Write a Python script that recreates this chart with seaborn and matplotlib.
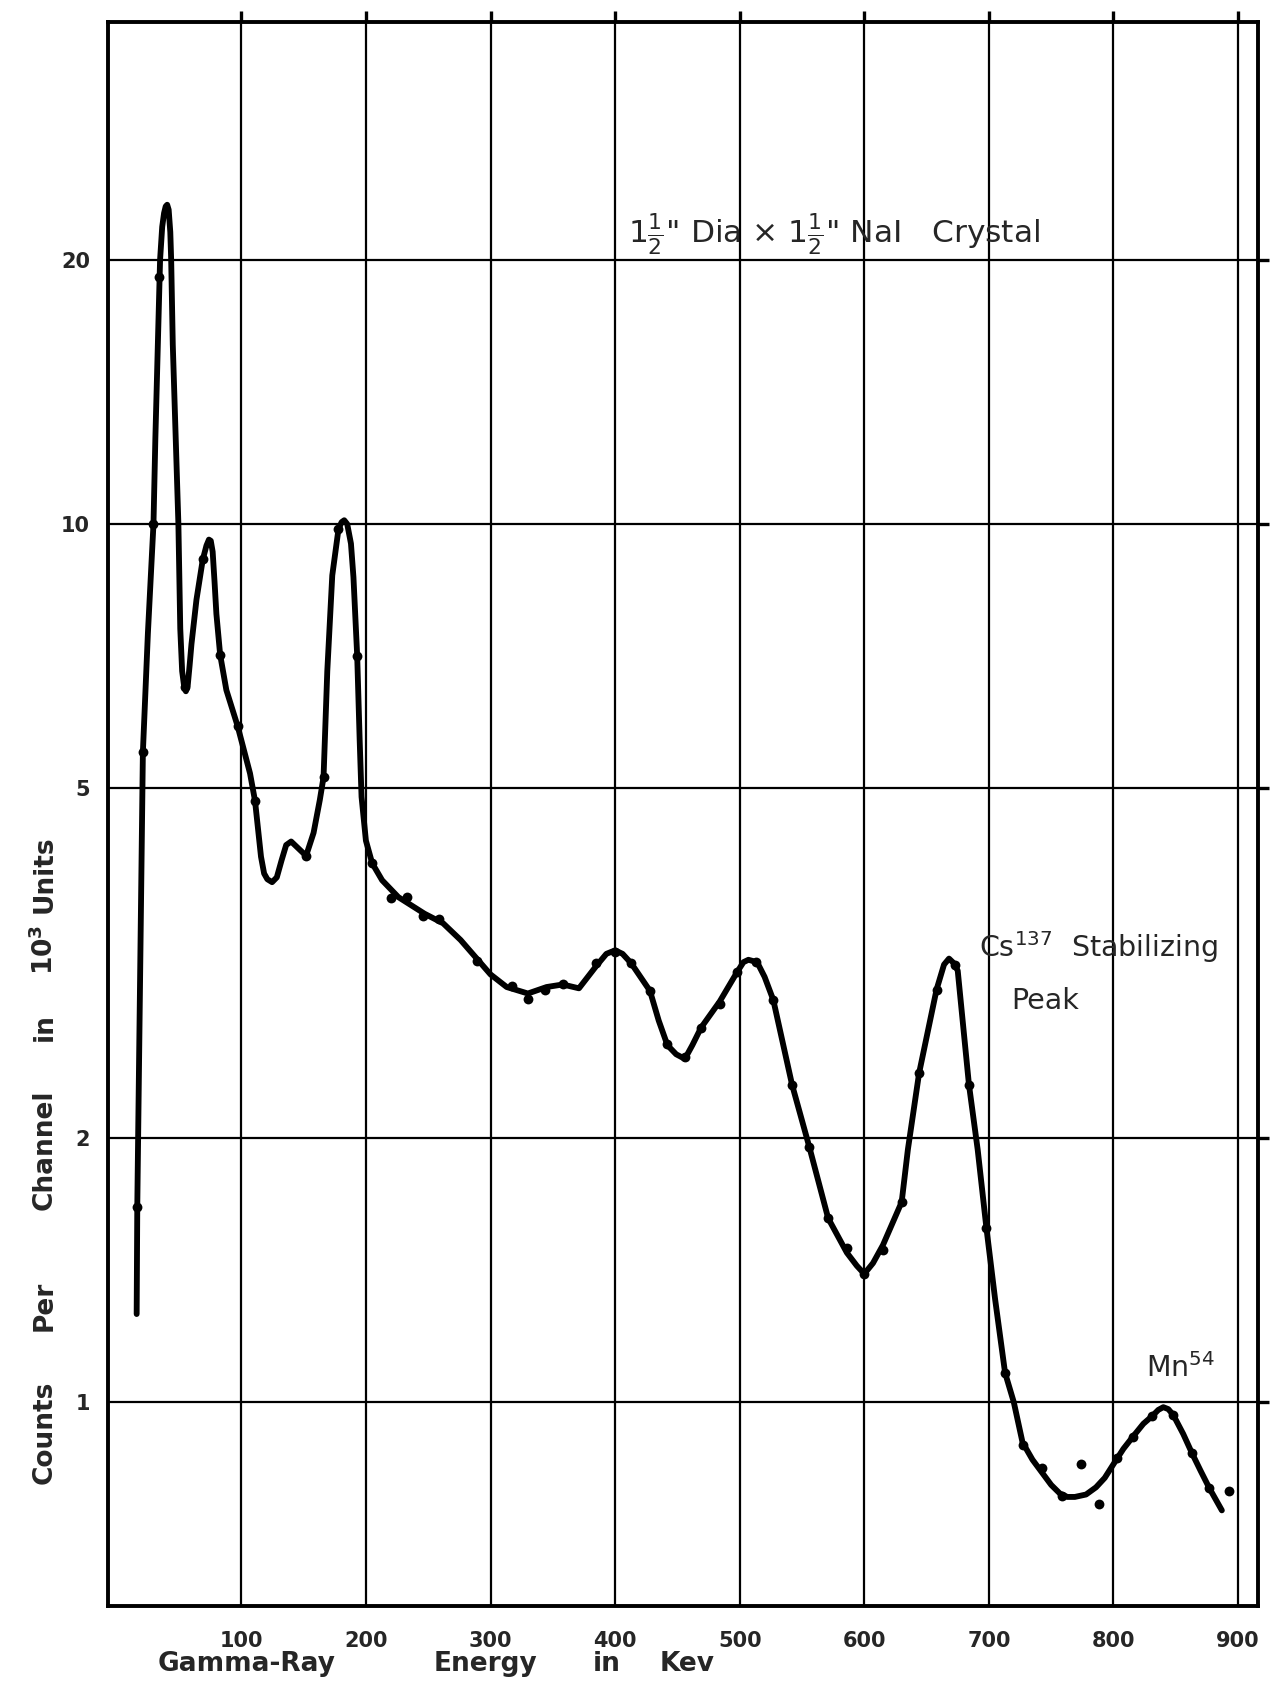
import numpy as np
import pandas as pd
import matplotlib
matplotlib.use("Agg")
import matplotlib.pyplot as plt
from matplotlib.ticker import FixedLocator, FixedFormatter, NullLocator
import seaborn as sns

# ---------------- data ----------------
# measured points: energy (keV), counts per channel (10^3 units)
point_energy = [16, 21, 29.5, 34, 55, 69, 83, 97, 111, 152, 166, 178, 193, 205,
                220, 233, 246, 259, 289, 317, 330, 344, 358, 385, 400, 413, 428,
                442, 456, 469, 484, 498, 513, 527, 542, 556, 571, 586, 600, 615,
                630, 644, 658, 673, 684, 698, 713, 727, 743, 759, 774, 788, 803,
                816, 831, 848, 863, 877, 893]
point_counts = [1.67, 5.5, 10.0, 19.1, 6.52, 9.12, 7.1, 5.89, 4.84, 4.19, 5.15, 9.87,
                7.08, 4.11, 3.75, 3.76, 3.58, 3.55, 3.18, 2.98, 2.88, 2.95, 2.99,
                3.16, 3.26, 3.16, 2.94, 2.56, 2.47, 2.67, 2.84, 3.09, 3.17, 2.87,
                2.30, 1.95, 1.62, 1.50, 1.40, 1.49, 1.69, 2.37, 2.95, 3.15, 2.30,
                1.58, 1.08, 0.893, 0.842, 0.781, 0.85, 0.765, 0.863, 0.912, 0.964,
                0.967, 0.875, 0.798, 0.792]

# hand-drawn smooth curve, traced vertices
curve_energy = [16, 16.5, 19, 21, 25, 29.5, 31, 33, 34.8, 36.5, 38, 39.3, 40.5,
                41.7, 43, 43.7, 45, 47, 49.5, 51, 52.5, 54, 55.5, 57, 58.5, 60, 64,
                69, 72, 74, 75.5, 77, 78.5, 80, 83, 88, 97, 107, 111, 115.8, 118.3,
                120.9, 124.7, 128.5, 132.3, 136, 140, 146, 152, 158, 163, 166, 169,
                173, 178, 180.5, 182.6, 185, 188, 190, 193, 195, 196.5, 200, 205,
                213, 226, 247, 262, 276, 289, 300, 313, 330, 345, 358, 371, 385,
                393, 400, 406, 413, 428, 435, 442, 449, 456, 462, 469, 484, 498,
                503, 507, 514, 520, 527, 542, 556, 571, 586, 594, 600, 607, 615,
                630, 635, 644, 658, 664, 668, 672, 675, 684, 691, 698, 705, 713,
                720, 727, 735, 743, 750, 757, 763, 769, 778, 786, 793, 800, 808,
                816, 824, 831, 836, 840, 844, 848, 856, 863, 870, 877, 887]
curve_counts = [1.26, 1.67, 3.2, 5.5, 7.5, 10.0, 12.5, 16.0, 20.0, 21.8, 22.6, 23.0,
                23.1, 22.8, 21.5, 20.0, 16.0, 13.0, 10.0, 7.6, 6.8, 6.55, 6.45, 6.55,
                6.9, 7.3, 8.2, 9.1, 9.45, 9.6, 9.57, 9.3, 8.6, 7.9, 7.1, 6.47, 5.89,
                5.2, 4.84, 4.18, 4.0, 3.94, 3.91, 3.96, 4.14, 4.31, 4.35, 4.27, 4.19,
                4.45, 4.85, 5.15, 6.8, 8.74, 9.87, 10.05, 10.1, 10.0, 9.5, 8.7, 7.08,
                5.67, 4.89, 4.36, 4.11, 3.93, 3.76, 3.6, 3.51, 3.36, 3.2, 3.07, 2.97,
                2.92, 2.97, 2.99, 2.96, 3.14, 3.24, 3.27, 3.24, 3.16, 2.94, 2.72,
                2.55, 2.49, 2.46, 2.55, 2.67, 2.86, 3.09, 3.17, 3.19, 3.17, 3.05,
                2.87, 2.30, 1.95, 1.62, 1.48, 1.43, 1.40, 1.44, 1.51, 1.69, 1.94,
                2.37, 2.95, 3.15, 3.2, 3.16, 3.1, 2.30, 1.94, 1.58, 1.31, 1.08, 1.0,
                0.9, 0.86, 0.83, 0.805, 0.787, 0.78, 0.78, 0.785, 0.8, 0.82, 0.85,
                0.885, 0.915, 0.945, 0.964, 0.98, 0.987, 0.982, 0.967, 0.92, 0.875,
                0.835, 0.798, 0.753]

x_ticks = [100, 200, 300, 400, 500, 600, 700, 800, 900]
x_tick_labels = ["100", "200", "300", "400", "500", "600", "700", "800", "900"]
y_ticks = [1, 2, 5, 10, 20]
y_tick_labels = ["1", "2", "5", "10", "20"]

x_title_words = ["Gamma-Ray", "Energy", "in", "Kev"]
y_title_words = ["Counts", "Per", "Channel", "in", r"10$^\mathbf{3}$", "Units"]

points = pd.DataFrame({"energy": point_energy, "counts": point_counts})
curve = pd.DataFrame({"energy": curve_energy, "counts": curve_counts})

# ---------------- figure ----------------
sns.set_theme(style="white")
plt.rcParams["font.family"] = ["DejaVu Sans"]
plt.rcParams["mathtext.fontset"] = "dejavusans"

W, H = 1280, 1682
fig = plt.figure(figsize=(W / 100, H / 100), dpi=100)
ax_left, ax_right, ax_top, ax_bottom = 108, 1258, 22, 1606
ax = fig.add_axes([ax_left / W, 1 - ax_bottom / H,
                   (ax_right - ax_left) / W, (ax_bottom - ax_top) / H])

sns.lineplot(data=curve, x="energy", y="counts", ax=ax, sort=False,
             color="black", linewidth=4.2, estimator=None)
sns.scatterplot(data=points, x="energy", y="counts", ax=ax, color="black",
                s=50, edgecolor="black", linewidth=0, zorder=5)

ax.set_yscale("log")
ax.set_xlim(-7, 916)
ax.set_ylim(0.586, 37.3)

ax.xaxis.set_major_locator(FixedLocator(x_ticks))
ax.xaxis.set_major_formatter(FixedFormatter(x_tick_labels))
ax.yaxis.set_major_locator(FixedLocator(y_ticks))
ax.yaxis.set_major_formatter(FixedFormatter(y_tick_labels))
ax.yaxis.set_minor_locator(NullLocator())
ax.xaxis.set_minor_locator(NullLocator())

ax.grid(True, which="major", color="black", linewidth=1.6)
ax.set_axisbelow(True)
for sp in ax.spines.values():
    sp.set_visible(True)
    sp.set_color("black")
    sp.set_linewidth(2.8)

ax.tick_params(axis="both", which="major", direction="out", length=8, width=2.4,
               color="black", top=True, right=True, labeltop=False, labelright=False)
ax.tick_params(axis="x", pad=10, labelsize=15)
ax.tick_params(axis="y", pad=5, labelsize=15)
for lab in ax.get_xticklabels() + ax.get_yticklabels():
    lab.set_fontweight("bold")

ax.set_xlabel("")
ax.set_ylabel("")

# axis titles, word by word as lettered on the original
x_word_centers = [247, 485, 607, 687]
for word, cx in zip(x_title_words, x_word_centers):
    fig.text(cx / W, 1 - 1664 / H, word, ha="center", va="center",
             fontsize=19, fontweight="bold")
y_word_centers = [1432, 1306, 1150, 1027, 950, 874]
for word, cy in zip(y_title_words, y_word_centers):
    fig.text(45 / W, 1 - cy / H, word, ha="center", va="center", rotation=90,
             fontsize=19, fontweight="bold")

# annotations
ax.text(0.452, 0.866, r'$1\frac{1}{2}$" Dia $\times$ $1\frac{1}{2}$" NaI   Crystal',
        transform=ax.transAxes, fontsize=22.5, ha="left", va="center")
ax.text(0.757, 0.416, r"Cs$^{137}$  Stabilizing", transform=ax.transAxes,
        fontsize=20.5, ha="left", va="center")
ax.text(0.785, 0.382, "Peak", transform=ax.transAxes, fontsize=20.5,
        ha="left", va="center")
ax.text(0.903, 0.150, r"Mn$^{54}$", transform=ax.transAxes, fontsize=20.5,
        ha="left", va="center")

fig.savefig("out.png", dpi=100, facecolor="white")
